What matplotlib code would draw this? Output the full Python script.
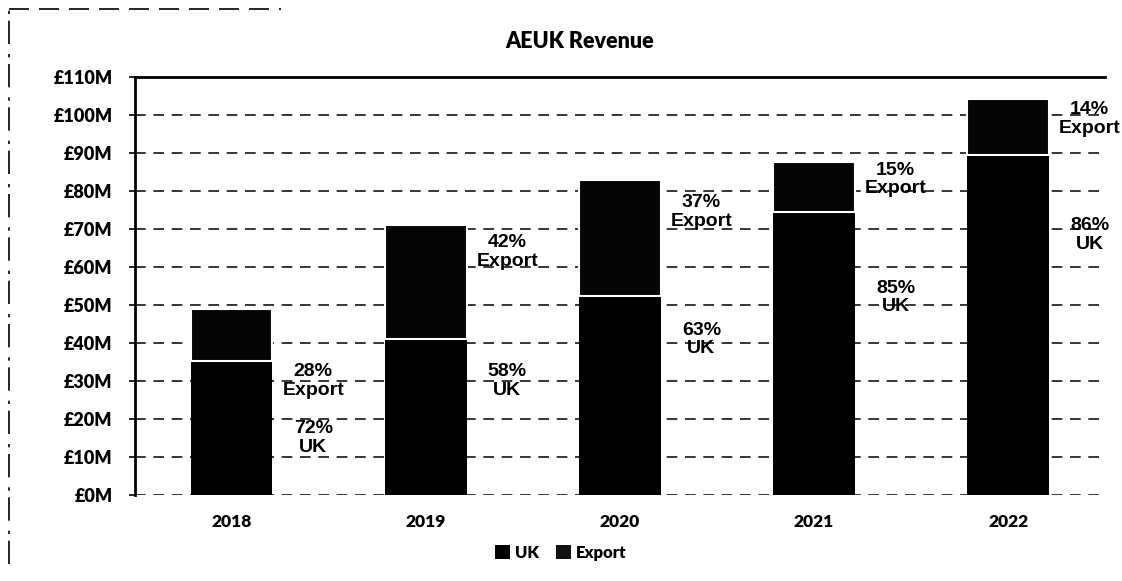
import numpy as np
import matplotlib.pyplot as plt
from matplotlib.lines import Line2D
from matplotlib.patches import Patch

# ---------------- data ----------------
years = ['2018', '2019', '2020', '2021', '2022']
uk_rev = [35.3, 41.2, 52.5, 74.6, 89.6]        # £M
export_rev = [13.7, 29.8, 30.5, 13.2, 14.6]    # £M
export_pct = ['28%', '42%', '37%', '15%', '14%']
uk_pct = ['72%', '58%', '63%', '85%', '86%']
# where the % labels sit (in £M)
export_lbl_y = [30, 64, 74.5, 83, 99]
uk_lbl_y = [15, 30, 41, 52, 68.5]
yticks = np.arange(0, 111, 10)

fig = plt.figure(figsize=(11.22, 5.81), dpi=100)
ax = fig.add_axes([0.120, 0.148, 0.865, 0.719])

x = np.arange(len(years))
w = 0.42
ax.bar(x, uk_rev, w, color='black', edgecolor='black', linewidth=0, zorder=3, label='UK')
ax.bar(x, export_rev, w, bottom=uk_rev, color='#050505', edgecolor='white',
       linewidth=1.5, zorder=3, label='Export')

# % labels right of each bar
for i in range(len(years)):
    ax.text(x[i] + 0.42, export_lbl_y[i], export_pct[i] + '\nExport', ha='center', va='center',
            fontsize=14, family='Liberation Sans', fontweight='bold', linespacing=1.1, zorder=4)
    ax.text(x[i] + 0.42, uk_lbl_y[i], uk_pct[i] + '\nUK', ha='center', va='center',
            fontsize=14, family='Liberation Sans', fontweight='bold', linespacing=1.1, zorder=4)

ax.set_xlim(-0.5, 4.5)
ax.set_ylim(0, 110)
ax.set_yticks(yticks)
ax.set_yticklabels(['£%dM' % v for v in yticks], fontsize=13, fontweight='heavy', family='Lato')
ax.set_xticks(x)
ax.set_xticklabels(years, fontsize=12.5, fontweight='heavy', family='Lato')
ax.tick_params(axis='y', length=4, width=1.2, pad=12, direction='out')
ax.tick_params(axis='x', length=0, pad=14)

ax.yaxis.grid(True, color='black', linestyle=(0, (7, 5)), linewidth=1.1, zorder=0)
for s in ['right', 'bottom']:
    ax.spines[s].set_visible(False)
ax.spines['top'].set_linewidth(2)
ax.spines['left'].set_linewidth(2)

fig.text(0.517, 0.928, 'AEUK Revenue', ha='center', va='center', fontsize=15.5,
         fontweight='heavy', family='Lato')

handles = [Patch(facecolor='black', label='UK'), Patch(facecolor='#111111', label='Export')]
fig.legend(handles=handles, loc='center', bbox_to_anchor=(0.5, 0.048), ncol=2, frameon=False,
           handlelength=0.9, handleheight=0.9, handletextpad=0.3, columnspacing=1.0,
           prop={'family': 'Lato', 'weight': 'heavy', 'size': 12})

# scanned frame edges (left and top)
fig.add_artist(Line2D([0.008, 0.008], [0.03, 0.985], transform=fig.transFigure,
                      color='black', linewidth=1.2, linestyle=(0, (14, 4, 2, 6))))
fig.add_artist(Line2D([0.008, 0.25], [0.985, 0.985], transform=fig.transFigure,
                      color='black', linewidth=1.2, linestyle=(0, (12, 6))))

fig.savefig('out.png', dpi=100)
